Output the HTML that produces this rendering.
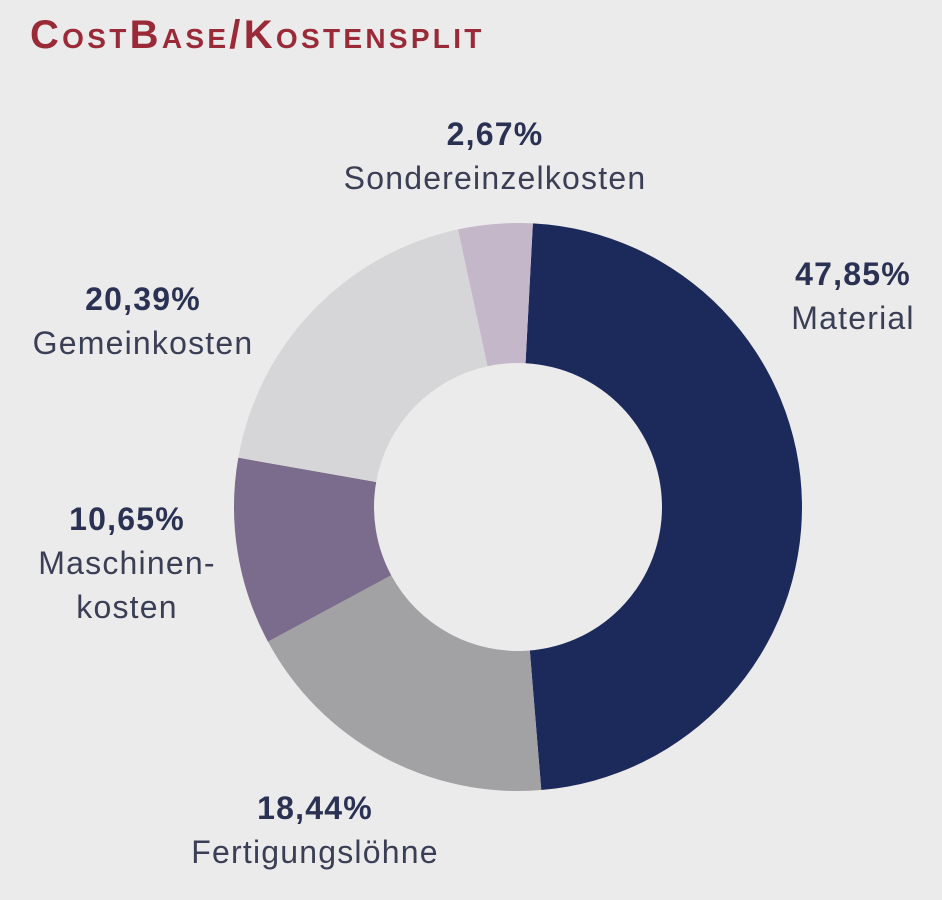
<!DOCTYPE html>
<html><head><meta charset="utf-8"><style>
html,body{margin:0;padding:0;}
body{width:942px;height:900px;background:#ebebeb;position:relative;overflow:hidden;font-family:"Liberation Sans",sans-serif;color:#2a3152;}
.t{position:absolute;left:30px;top:13px;font-size:40px;font-weight:bold;color:#9a2a38;font-variant:small-caps;letter-spacing:3.3px;}
.l{position:absolute;text-align:center;font-size:32px;line-height:44px;letter-spacing:1.2px;color:#3a3f55;}
.l b{color:#2a3152;}
</style></head><body>
<div class="t">CostBase/Kostensplit</div>
<svg width="942" height="900" style="position:absolute;left:0;top:0">
<g id="d"></g>
</svg>
<div class="l" style="left:295px;top:112px;width:400px"><b>2,67%</b><br>Sondereinzelkosten</div>
<div class="l" style="left:753px;top:252px;width:200px"><b>47,85%</b><br>Material</div>
<div class="l" style="left:0px;top:277px;width:286px"><b>20,39%</b><br>Gemeinkosten</div>
<div class="l" style="left:0px;top:497px;width:254px"><b>10,65%</b><br>Maschinen-<br>kosten</div>
<div class="l" style="left:130px;top:786px;width:370px"><b>18,44%</b><br>Fertigungslöhne</div>
<script>
var cx=518,cy=507,R=284,r=144;
var data=[[3,175.3,"#1c2a5b"],[175.3,241.7,"#a2a2a4"],[241.7,280,"#7b6b8c"],[280,347.8,"#d6d6d8"],[347.8,363,"#c5b7ca"]];
var g=document.getElementById("d"),h="";
function p(ang,rad){var t=(ang-90)*Math.PI/180;return [cx+rad*Math.cos(t),cy+rad*Math.sin(t)];}
data.forEach(function(d){var s=d[0],e=d[1];var lg=(e-s)>180?1:0;
var p1=p(s,R),p2=p(e,R),p3=p(e,r),p4=p(s,r);
h+='<path fill="'+d[2]+'" d="M'+p1+' A'+R+','+R+' 0 '+lg+' 1 '+p2+' L'+p3+' A'+r+','+r+' 0 '+lg+' 0 '+p4+'Z"/>';});
g.innerHTML=h;
</script>
</body></html>
